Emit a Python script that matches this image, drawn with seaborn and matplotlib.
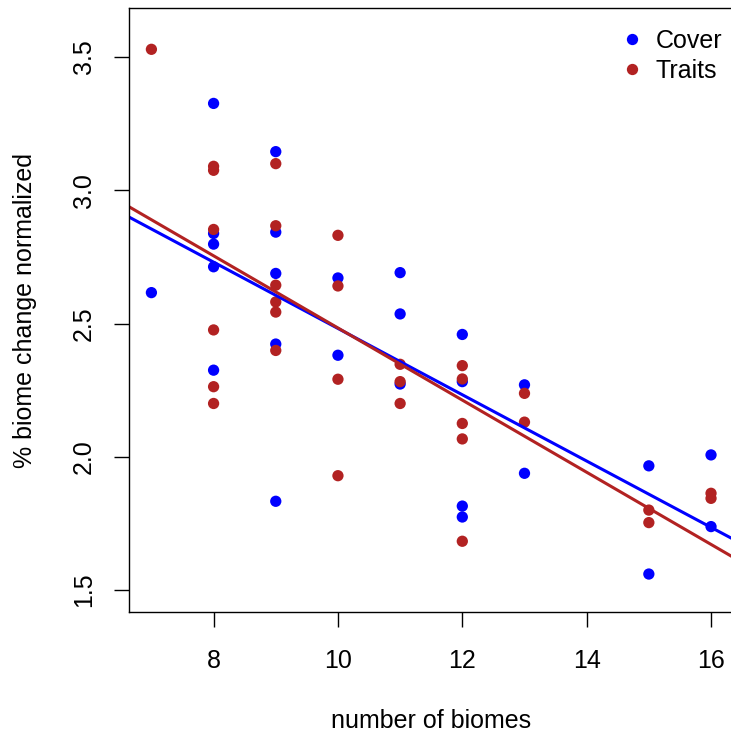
import seaborn as sns
import matplotlib.pyplot as plt
import pandas as pd

# values
cover_biomes = [7, 8, 8, 8, 8, 8, 9, 9, 9, 9, 9, 10, 10, 11, 11, 11,
                12, 12, 12, 12, 13, 13, 15, 15, 16, 16]
cover_change = [2.616, 3.326, 2.838, 2.798, 2.713, 2.325,
                3.145, 2.843, 2.688, 2.423, 1.833,
                2.671, 2.381,
                2.691, 2.536, 2.273,
                2.459, 2.282, 1.815, 1.774,
                2.270, 1.938,
                1.966, 1.560,
                2.007, 1.738]

traits_biomes = [7, 8, 8, 8, 8, 8, 8, 9, 9, 9, 9, 9, 9, 10, 10, 10, 10,
                 11, 11, 11, 12, 12, 12, 12, 12, 13, 13, 15, 15, 16, 16]
traits_change = [3.529,
                 3.090, 3.075, 2.853, 2.476, 2.263, 2.200,
                 3.100, 2.867, 2.644, 2.581, 2.543, 2.399,
                 2.831, 2.641, 2.291, 1.929,
                 2.347, 2.282, 2.200,
                 2.342, 2.292, 2.125, 2.067, 1.683,
                 2.238, 2.130,
                 1.800, 1.753,
                 1.863, 1.844]

groups = ["Cover", "Traits"]
colors = {"Cover": "#0000FF", "Traits": "#B22222"}

df = pd.DataFrame({
    "biomes": cover_biomes + traits_biomes,
    "change": cover_change + traits_change,
    "group": ["Cover"] * len(cover_biomes) + ["Traits"] * len(traits_biomes),
})

fs = 18

sns.set_style("white")
plt.rcParams["font.family"] = ["Liberation Sans", "DejaVu Sans"]
plt.rcParams["font.size"] = fs
plt.rcParams["text.color"] = "black"
plt.rcParams["axes.labelcolor"] = "black"
plt.rcParams["xtick.color"] = "black"
plt.rcParams["ytick.color"] = "black"

fig = plt.figure(figsize=(7.31, 7.35), dpi=100)
ax = fig.add_axes([0.1765, 0.1673, 0.8268, 0.8218])
ax.set_xlim(6.64, 16.36)
ax.set_ylim(1.4174, 3.684)

sns.scatterplot(data=df, x="biomes", y="change", hue="group", palette=colors,
                s=66, linewidth=0, ax=ax)

# least squares lines across the full plot width
for g in groups:
    sub = df[df["group"] == g]
    sns.regplot(data=sub, x="biomes", y="change", scatter=False, ci=None,
                truncate=False, color=colors[g], line_kws={"linewidth": 2.2}, ax=ax)

ax.set_xlim(6.64, 16.36)
ax.set_ylim(1.4174, 3.684)
ax.set_xticks([8, 10, 12, 14, 16])
ax.set_yticks([1.5, 2.0, 2.5, 3.0, 3.5])
ax.set_yticklabels(["1.5", "2.0", "2.5", "3.0", "3.5"], rotation=90, va="center")
ax.tick_params(axis="both", direction="out", length=10.8, width=1, color="black",
               labelcolor="black", labelsize=fs, left=True, bottom=True)
ax.tick_params(axis="x", pad=15.5)
ax.tick_params(axis="y", pad=13)
ax.set_xlabel("number of biomes", fontsize=fs, labelpad=26, color="black")
ax.set_ylabel("% biome change normalized", fontsize=fs, labelpad=25, color="black")
for sp in ax.spines.values():
    sp.set_color("black")
    sp.set_linewidth(1)

sns.move_legend(ax, "upper left", bbox_to_anchor=(0.831, 0.978),
                bbox_transform=fig.transFigure, title=None, frameon=False,
                borderpad=0, handlelength=1, handletextpad=0.42,
                labelspacing=0.26, fontsize=fs, markerscale=1,
                labelcolor="black")

fig.savefig("out.png", dpi=100)
